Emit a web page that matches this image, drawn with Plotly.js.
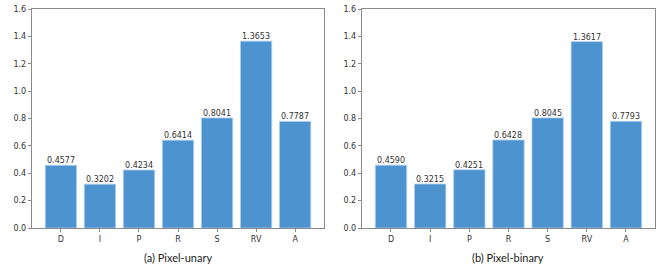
<!DOCTYPE html>
<html><head><meta charset="utf-8">
<script src="https://cdn.plot.ly/plotly-3.0.1.min.js"></script>
<style>html,body{margin:0;padding:0;background:#fff}#c{width:664px;height:269px}</style>
</head><body><div id="c"></div>
<script>
const categories = ["D","I","P","R","S","RV","A"];
const unaryValues = [0.4577,0.3202,0.4234,0.6414,0.8041,1.3653,0.7787];
const binaryValues = [0.4590,0.3215,0.4251,0.6428,0.8045,1.3617,0.7793];
const unaryLabels = ["0.4577","0.3202","0.4234","0.6414","0.8041","1.3653","0.7787"];
const binaryLabels = ["0.4590","0.3215","0.4251","0.6428","0.8045","1.3617","0.7793"];
const captions = ["(a) Pixel-unary","(b) Pixel-binary"];
const yTicks = [0,0.2,0.4,0.6,0.8,1.0,1.2,1.4,1.6];
const yTickText = ["0.0","0.2","0.4","0.6","0.8","1.0","1.2","1.4","1.6"];

const barColor = "#4d93d0";
const tickFont = {family:"DejaVu Sans", size:8, color:"#333"};
function bar(vals, xa, ya){
  return {type:"bar", x:categories, y:vals,
    marker:{color:barColor, line:{color:"#a9cdee", width:0.8}}, width:0.8,
    xaxis:xa, yaxis:ya, hoverinfo:"none", showlegend:false};
}
function labelAnns(vals, labels, xr, yr){
  return vals.map((v,i)=>({x:categories[i], y:v, text:labels[i], xref:xr, yref:yr, showarrow:false,
    xanchor:"center", yanchor:"bottom", borderpad:0, yshift:-1,
    font:{family:"DejaVu Sans", size:8, color:"#333"}}));
}
function xax(domain, anchor){
  return {domain:domain, anchor:anchor, type:"category", range:[-0.74,6.74], showline:true, mirror:true,
    linecolor:"#8a8a8a", linewidth:1.2, ticks:"outside", ticklen:3, tickcolor:"#8a8a8a",
    tickfont:tickFont, showgrid:false, zeroline:false, fixedrange:true};
}
function yax(anchor){
  return {domain:[0.1524,0.9665], anchor:anchor, range:[0,1.6], tickvals:yTicks, ticktext:yTickText,
    showline:true, mirror:true, linecolor:"#8a8a8a", linewidth:1.2, ticks:"outside", ticklen:3,
    tickcolor:"#8a8a8a", tickfont:tickFont, showgrid:false, zeroline:false, fixedrange:true};
}
const captionAnns = [
  {text:captions[0], x:(0.0482+0.488)/2, y:12/269, xref:"paper", yref:"paper", showarrow:false,
   font:{family:"Lato", size:11, color:"#222"}, xanchor:"center", yanchor:"middle"},
  {text:captions[1], x:(0.5452+0.9864)/2, y:12/269, xref:"paper", yref:"paper", showarrow:false,
   font:{family:"Lato", size:11, color:"#222"}, xanchor:"center", yanchor:"middle"}
];
const layout = {
  width:664, height:269, margin:{l:0,r:0,t:0,b:0}, paper_bgcolor:"#fff", plot_bgcolor:"#fff",
  xaxis: xax([0.0482,0.488],"y"), yaxis: yax("x"),
  xaxis2: xax([0.5452,0.9864],"y2"), yaxis2: yax("x2"),
  annotations: labelAnns(unaryValues,unaryLabels,"x","y")
    .concat(labelAnns(binaryValues,binaryLabels,"x2","y2")).concat(captionAnns)
};
Plotly.newPlot("c",[bar(unaryValues,"x","y"),bar(binaryValues,"x2","y2")],layout,{staticPlot:true});
</script></body></html>
